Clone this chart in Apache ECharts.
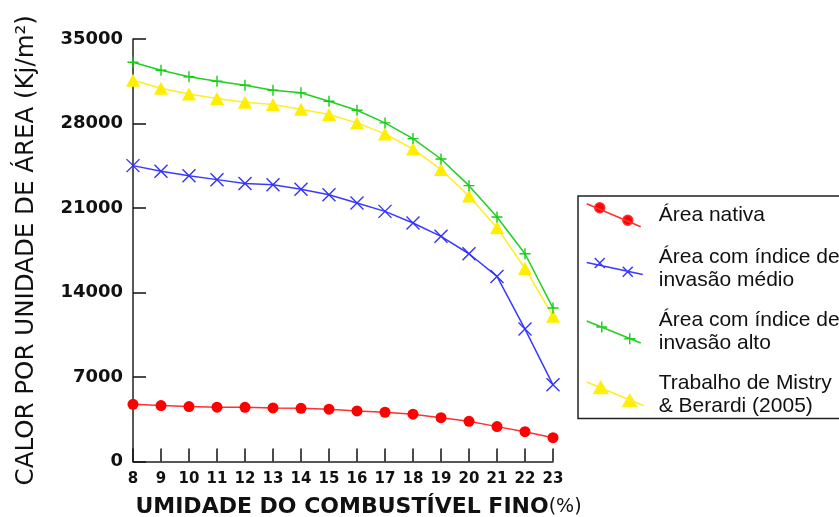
<!DOCTYPE html>
<html>
<head>
<meta charset="utf-8">
<script src="https://cdn.jsdelivr.net/npm/echarts@6/dist/echarts.min.js"></script>
<style>html,body{margin:0;padding:0;background:#fff}#c{width:839px;height:517px}</style>
</head>
<body>
<div id="c"></div>
<script>
const humidity = [8, 9, 10, 11, 12, 13, 14, 15, 16, 17, 18, 19, 20, 21, 22, 23];
const nativa = [4740, 4630, 4550, 4500, 4490, 4440, 4410, 4330, 4190, 4080, 3920, 3630, 3330, 2890, 2470, 1970];
const medio = [24510, 24040, 23680, 23350, 23020, 22930, 22560, 22100, 21420, 20720, 19760, 18650, 17210, 15330, 10970, 6350];
const alto = [33080, 32410, 31870, 31500, 31170, 30760, 30540, 29840, 29100, 28050, 26750, 25060, 22850, 20250, 17210, 12710];
const mistry = [31580, 30920, 30450, 30070, 29760, 29570, 29180, 28740, 28050, 27140, 25890, 24180, 22000, 19370, 15990, 12040];

const names = ['Área nativa', 'Área com índice de invasão médio', 'Área com índice de invasão alto', 'Trabalho de Mistry & Berardi (2005)'];
const legendLabels = ['Área nativa', 'Área com índice de\ninvasão médio', 'Área com índice de\ninvasão alto', 'Trabalho de Mistry\n& Berardi (2005)'];

function pairs(arr) { return humidity.map((x, i) => [x, arr[i]]); }

const box = 'M0,0M67,26';
const icons = [
  'path://' + box + 'M0,2L54,25M18,6A5,5,0,1,1,8,6A5,5,0,1,1,18,6ZM46,18.5A5,5,0,1,1,36,18.5A5,5,0,1,1,46,18.5Z',
  'path://' + box + 'M0,7L56,19M8,2.5L18,12.5M18,2.5L8,12.5M36,11.3L46,21.3M46,11.3L36,21.3',
  'path://' + box + 'M0,2.5L54,24.5M9.5,8.5L20.5,8.5M15,3L15,14M37.5,20.2L48.5,20.2M43,14.7L43,25.7',
  'path://' + box + 'M0,0.5L57,24.2M14,0L21,12L7,12ZM43,13L50,25L36,25Z'
];
const colors = ['#ff0000', '#3030ff', '#10d010', '#ffee00'];
const lineColors = ['#ff3030', '#3a3aff', '#20d020', '#ffee22'];

const chart = echarts.init(document.getElementById('c'));
chart.setOption({
  animation: false,
  backgroundColor: '#fff',
  grid: { left: 133, right: 286, top: 39, bottom: 55.5, outerBoundsContain: 'axisLabel' },
  xAxis: {
    type: 'value', min: 8, max: 23, interval: 1,
    axisLine: { show: true, lineStyle: { color: '#222', width: 1.5 } },
    axisTick: { show: true, inside: true, length: 13, lineStyle: { color: '#111', width: 1.5 } },
    splitLine: { show: false },
    axisLabel: { margin: 10, fontFamily: 'DejaVu Sans', fontWeight: 'bold', fontSize: 15, lineHeight: 16, color: '#111' },
    name: '{b|UMIDADE DO COMBUSTÍVEL FINO}{r|(%)}',
    nameLocation: 'middle', nameGap: 37,
    nameTextStyle: {
      padding: [0, 0, 0, 31],
      lineHeight: 17,
      rich: {
        b: { fontFamily: 'DejaVu Sans', fontWeight: 'bold', fontSize: 22, lineHeight: 17, color: '#111' },
        r: { fontFamily: 'DejaVu Sans', fontSize: 19, lineHeight: 17, color: '#111' }
      }
    }
  },
  yAxis: {
    type: 'value', min: 0, max: 35000, interval: 7000,
    axisLine: { show: true, lineStyle: { color: '#222', width: 1.5 } },
    axisTick: { show: true, inside: true, length: 13, lineStyle: { color: '#111', width: 1.5 } },
    splitLine: { show: false },
    axisLabel: { margin: 10, fontFamily: 'DejaVu Sans', fontWeight: 'bold', fontSize: 18, color: '#111',
      formatter: function (v) { return String(v); } },
    name: 'CALOR POR UNIDADE DE ÁREA (Kj/m²)',
    nameLocation: 'middle', nameGap: 94,
    nameTextStyle: { fontFamily: 'DejaVu Sans', fontSize: 24.5, color: '#111' }
  },
  legend: {
    orient: 'vertical', left: 578, top: 196,
    padding: [5, 12, 1, 8],
    itemGap: 17, itemWidth: 67, itemHeight: 26,
    borderColor: '#222', borderWidth: 1.5,
    backgroundColor: '#fff',
    textStyle: { fontFamily: 'Liberation Sans', fontSize: 21, lineHeight: 23, color: '#111' },
    formatter: function (n) { return legendLabels[names.indexOf(n)]; },
    data: names.map((n, i) => ({ name: n, icon: icons[i],
      itemStyle: { color: colors[i], borderColor: lineColors[i], borderWidth: 1.5 } }))
  },
  series: [
    { name: names[0], type: 'line', data: pairs(nativa), symbol: 'circle', symbolSize: 11,
      itemStyle: { color: colors[0], borderWidth: 0 }, lineStyle: { color: lineColors[0], width: 1.5 }, clip: false, z: 3 },
    { name: names[1], type: 'line', data: pairs(medio), symbol: 'path://M0,0L10,10M10,0L0,10', symbolSize: 13,
      itemStyle: { color: colors[1], borderColor: colors[1], borderWidth: 1.4 }, lineStyle: { color: lineColors[1], width: 1.5 }, clip: false, z: 3 },
    { name: names[3], type: 'line', data: pairs(mistry), symbol: 'triangle', symbolSize: [14, 13],
      itemStyle: { color: colors[3], borderWidth: 0 }, lineStyle: { color: lineColors[3], width: 1.5 }, clip: false, z: 3 },
    { name: names[2], type: 'line', data: pairs(alto), symbol: 'path://M0,5L10,5M5,0L5,10', symbolSize: 11,
      itemStyle: { color: colors[2], borderColor: colors[2], borderWidth: 1.4 }, lineStyle: { color: lineColors[2], width: 1.5 }, clip: false, z: 3 }
  ]
});
</script>
</body>
</html>
